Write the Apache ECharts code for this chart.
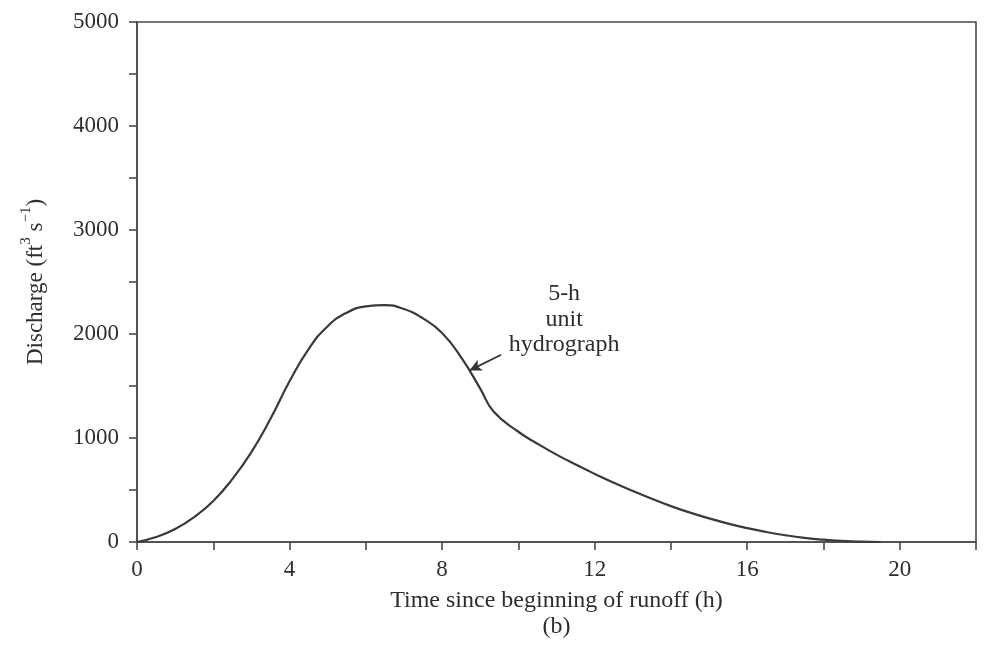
<!DOCTYPE html>
<html>
<head>
<meta charset="utf-8">
<script src="https://cdn.jsdelivr.net/npm/echarts@6/dist/echarts.min.js"></script>
<style>
  html, body { margin: 0; padding: 0; background: #ffffff; }
  #chart { width: 986px; height: 645px; }
</style>
</head>
<body>
<div id="chart"></div>
<script>
// 5-h unit hydrograph: time since beginning of runoff (h) vs discharge (ft3/s)
const hours = [0, 0.5, 1.0, 1.5, 2.0, 2.5, 3.0, 3.5, 4.0, 4.5, 5.0, 5.5, 6.0, 6.5, 7.0, 7.5, 8.0, 8.5, 9.0, 9.35,
               10.0, 10.5, 11.0, 11.5, 12.0, 12.5, 13.0, 13.5, 14.0, 14.5, 15.0, 15.5, 16.0, 16.5, 17.0,
               17.5, 18.0, 18.5, 19.0, 19.5];
const discharge = [0, 48, 125, 240, 395, 605, 865, 1185, 1545, 1855, 2075, 2205, 2265, 2278, 2240, 2150, 2010, 1775, 1475, 1255,
                   1060, 945, 840, 745, 655, 570, 490, 415, 345, 283, 227, 177, 133, 96, 65,
                   40, 22, 10, 3, 0];

const xTickLabels = [0, 4, 8, 12, 16, 20];
const yTickLabels = [0, 1000, 2000, 3000, 4000, 5000];

// callout: arrow from the label towards the curve, and the label itself
const arrowFrom = [9.55, 1800];
const arrowTo = [8.72, 1650];
const calloutAt = [11.2, 2140];
const calloutText = ['5-h', 'unit', 'hydrograph'];

const FONT = '"Liberation Serif", "DejaVu Serif", serif';
const INK = '#2e2e2e';
const AXIS = '#4a4a4a';

const chart = echarts.init(document.getElementById('chart'), null, { renderer: 'canvas' });

chart.setOption({
  backgroundColor: '#ffffff',
  animation: false,
  grid: {
    left: 137, right: 10, top: 22, bottom: 96,
    show: true, borderColor: AXIS, borderWidth: 1.6, backgroundColor: 'transparent'
  },
  xAxis: {
    type: 'value', min: 0, max: 22, interval: 2,
    axisLine: { show: true, lineStyle: { color: AXIS, width: 1.6 } },
    axisTick: { show: true, inside: false, length: 8, lineStyle: { color: AXIS, width: 1.6 } },
    splitLine: { show: false },
    axisLabel: {
      margin: 16, color: INK, fontFamily: FONT, fontSize: 23,
      formatter: v => (xTickLabels.indexOf(v) >= 0 ? String(v) : '')
    },
    name: 'Time since beginning of runoff (h)\n(b)',
    nameLocation: 'middle', nameGap: 46,
    nameTextStyle: { color: INK, fontFamily: FONT, fontSize: 24, lineHeight: 26 }
  },
  yAxis: {
    type: 'value', min: 0, max: 5000, interval: 500,
    axisLine: { show: true, lineStyle: { color: AXIS, width: 1.6 } },
    axisTick: { show: true, inside: false, length: 8, lineStyle: { color: AXIS, width: 1.6 } },
    splitLine: { show: false },
    axisLabel: {
      margin: 18, color: INK, fontFamily: FONT, fontSize: 23,
      formatter: v => (yTickLabels.indexOf(v) >= 0 ? String(v) : '')
    },
    name: '{n|Discharge (ft}{s|3}{n| s}{s|\u22121}{n|)}',
    nameLocation: 'middle', nameGap: 90, nameRotate: 90,
    nameTextStyle: {
      color: INK, fontFamily: FONT, fontSize: 23,
      rich: {
        n: { color: INK, fontFamily: FONT, fontSize: 23, verticalAlign: 'bottom', lineHeight: 28 },
        s: { color: INK, fontFamily: FONT, fontSize: 15, verticalAlign: 'top', lineHeight: 28, padding: [0, 0, 10, 0] }
      }
    }
  },
  series: [{
    type: 'line',
    data: hours.map((h, i) => [h, discharge[i]]),
    smooth: 0.5,
    showSymbol: false,
    lineStyle: { color: '#3a3a3a', width: 2.2 },
    markLine: {
      silent: true,
      symbol: ['none', 'arrow'],
      symbolSize: [9, 12],
      label: { show: false },
      lineStyle: { color: '#333', width: 1.8, type: 'solid' },
      data: [[{ coord: arrowFrom }, { coord: arrowTo }]]
    },
    markPoint: {
      silent: true,
      symbol: 'circle', symbolSize: 0,
      data: [{
        coord: calloutAt,
        label: {
          show: true, position: 'inside',
          formatter: calloutText.join('\n'),
          color: INK, fontFamily: FONT, fontSize: 24, lineHeight: 25.5, align: 'center'
        }
      }]
    }
  }]
});
</script>
</body>
</html>
